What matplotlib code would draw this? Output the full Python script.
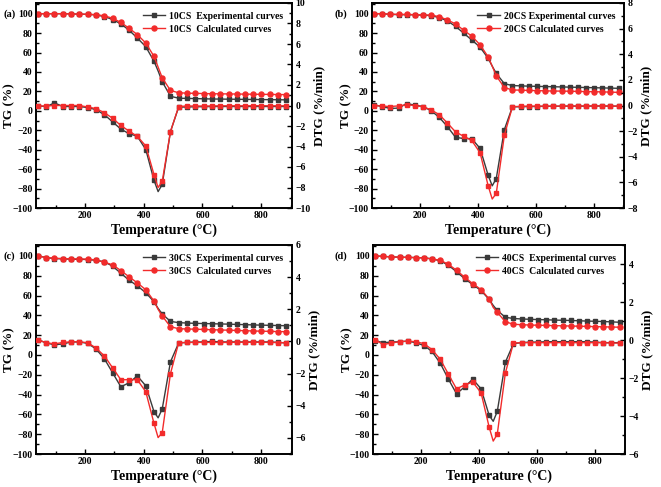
import matplotlib
matplotlib.use("Agg")
import matplotlib.pyplot as plt
from matplotlib.ticker import MultipleLocator

plt.rcParams['font.family'] = ['Liberation Serif', 'DejaVu Serif']
plt.rcParams['font.weight'] = 'bold'
plt.rcParams['axes.labelweight'] = 'bold'

# temperature (deg C); the point at 449 carries no marker
temps = [40, 68, 96, 125, 153, 181, 209, 237, 266, 294, 322, 350, 378, 407, 435, 449,
         463, 491, 519, 548, 576, 604, 632, 660, 689, 717, 745, 773, 801, 830, 858, 886]
marked = [i for i in range(len(temps)) if i != 15]

names = ['10CS', '20CS', '30CS', '40CS']
letters = ['(a)', '(b)', '(c)', '(d)']

# TG (%) experimental / calculated
tg_exp_a = [100, 100, 100, 100, 99.8, 99.5, 99.3, 98.8, 97, 94, 89.5, 83, 75, 66, 51, 41,
            30, 15, 13, 12.8, 12.6, 12.4, 12.2, 12.1, 12, 11.9, 11.8, 11.7, 11.6, 11.5, 11.4, 11.3]
tg_calc_a = [100, 100, 100, 100, 99.8, 99.6, 99.4, 99, 97.8, 95.3, 91, 85, 78.5, 69.8, 56, 45,
             34, 21, 18.6, 18.2, 18, 17.8, 17.6, 17.5, 17.4, 17.3, 17.2, 17.1, 17, 16.9, 16.8, 16.7]
tg_exp_b = [100, 100, 99.3, 99, 99, 98.8, 98.5, 98, 96, 92.5, 87, 80, 73, 65.5, 54, 46,
            38.5, 28, 26, 25.7, 25.4, 25.2, 25, 24.8, 24.6, 24.4, 24.2, 24, 23.8, 23.6, 23.4, 23.2]
tg_calc_b = [100, 100, 99.5, 99.3, 99.2, 99, 98.8, 98.5, 97, 93.5, 89.5, 83, 77, 68, 55.5, 46,
             36, 24, 21.5, 21.3, 21, 20.8, 20.6, 20.4, 20.3, 20.2, 20, 19.8, 19.7, 19.5, 19.3, 19]
tg_exp_c = [100, 98.3, 97.3, 97, 96.6, 96.6, 96.3, 95.6, 94, 89.6, 82.5, 75.5, 69.8, 62.8, 53.7, 47,
            41.3, 33.9, 32.6, 32.2, 31.9, 31.7, 31.5, 31.3, 31.1, 30.8, 30.6, 30.3, 30.1, 29.9, 29.7, 29.5]
tg_calc_c = [100, 98.3, 97.6, 97.3, 97, 97, 96.6, 96, 93.6, 91, 85.2, 78.9, 72.8, 65.8, 54.4, 46,
             39.3, 28.5, 26.5, 26.2, 26, 25.7, 25.5, 25.2, 25, 24.7, 24.5, 24.2, 24, 23.8, 23.6, 23.5]
tg_exp_d = [100, 99.5, 99, 98.7, 98.5, 98.3, 98, 97, 95, 90.5, 84, 77, 71, 65, 56, 50,
            45, 38, 36.8, 36.3, 36, 35.7, 35.5, 35.2, 35, 34.8, 34.5, 34.2, 34, 33.7, 33.4, 33]
tg_calc_d = [100, 99.5, 99, 98.7, 98.5, 98.3, 98, 97, 95.5, 91.5, 85.5, 78.5, 72, 66, 56.5, 48,
             43, 33.5, 31, 30.5, 30.2, 30, 29.8, 29.6, 29.4, 29.2, 29, 28.8, 28.6, 28.4, 28.2, 28]

# DTG (%/min) experimental / calculated
dtg_exp_a = [-0.05, -0.1, 0.25, -0.1, -0.1, -0.1, -0.2, -0.4, -0.9, -1.6, -2.3, -2.75, -3.0, -4.3, -7.3, -8.4,
             -7.7, -2.55, -0.15, -0.15, -0.12, -0.12, -0.1, -0.1, -0.1, -0.1, -0.1, -0.1, -0.1, -0.1, -0.1, -0.1]
dtg_calc_a = [-0.05, -0.05, 0, 0, 0, 0, -0.15, -0.3, -0.7, -1.25, -1.95, -2.5, -3.0, -3.95, -6.75, -8.0,
              -7.4, -2.55, -0.1, -0.05, -0.05, -0.05, -0.05, -0.03, -0.03, -0.03, -0.03, -0.02, -0.02, -0.03, -0.03, -0.03]
dtg_exp_b = [0.05, -0.08, -0.23, -0.2, 0.15, 0.03, -0.08, -0.4, -0.93, -1.65, -2.48, -2.58, -2.58, -3.35, -5.45, -6.27,
             -5.7, -1.88, -0.1, -0.1, -0.08, -0.08, -0.06, -0.06, -0.05, -0.05, -0.05, -0.05, -0.04, -0.04, -0.05, -0.05]
dtg_calc_b = [0, -0.05, -0.08, -0.03, 0.05, 0, -0.1, -0.33, -0.72, -1.37, -2.06, -2.4, -2.73, -3.69, -6.27, -7.3,
              -6.86, -2.32, -0.1, -0.06, -0.05, -0.05, -0.05, -0.05, -0.05, -0.05, -0.04, -0.04, -0.03, -0.04, -0.05, -0.05]
dtg_exp_c = [0.1, -0.09, -0.21, -0.15, -0.03, -0.03, -0.12, -0.46, -1.08, -1.95, -2.82, -2.57, -2.14, -2.76, -4.37, -4.75,
             -4.19, -1.27, -0.09, -0.06, -0.03, -0.03, 0.0, -0.03, -0.03, -0.03, -0.03, -0.03, -0.03, -0.03, -0.06, -0.09]
dtg_calc_c = [0.1, -0.08, -0.15, -0.06, -0.02, -0.02, -0.08, -0.4, -0.9, -1.64, -2.38, -2.38, -2.38, -3.13, -5.1, -5.98,
              -5.67, -2.0, -0.08, -0.06, -0.06, -0.06, -0.06, -0.06, -0.06, -0.05, -0.05, -0.05, -0.05, -0.06, -0.07, -0.08]
dtg_exp_d = [-0.03, -0.14, -0.11, -0.09, -0.06, -0.14, -0.29, -0.6, -1.23, -2.06, -2.83, -2.47, -2.06, -2.57, -3.97, -4.28,
             -3.76, -1.17, -0.19, -0.14, -0.11, -0.11, -0.09, -0.09, -0.09, -0.09, -0.09, -0.09, -0.11, -0.14, -0.14, -0.14]
dtg_calc_d = [0.02, -0.24, -0.16, -0.09, -0.06, -0.09, -0.19, -0.5, -1.02, -1.8, -2.57, -2.37, -2.21, -2.78, -4.59, -5.32,
              -4.96, -1.74, -0.16, -0.14, -0.14, -0.14, -0.14, -0.14, -0.14, -0.14, -0.14, -0.14, -0.14, -0.14, -0.16, -0.16]

dtg_lims = [(-10, 10), (-8, 8), (-7, 6), (-6, 5)]
legend_sep = ['  ', ' ', '  ', '  ']

tg_exp = [tg_exp_a, tg_exp_b, tg_exp_c, tg_exp_d]
tg_calc = [tg_calc_a, tg_calc_b, tg_calc_c, tg_calc_d]
dtg_exp = [dtg_exp_a, dtg_exp_b, dtg_exp_c, dtg_exp_d]
dtg_calc = [dtg_calc_a, dtg_calc_b, dtg_calc_c, dtg_calc_d]

GRAY = '#3a3a3a'
RED = '#f22b2b'

fig = plt.figure(figsize=(6.61, 4.87), dpi=100)
W, H = 661.0, 487.0
# axes boxes in pixels: left, top, right, bottom
boxes = [(36, 3, 292, 208), (372, 3, 624, 208), (36, 245, 292, 454), (373, 245, 625, 454)]
# panel letter positions (pixels)
letter_xy = [(3, 14), (335, 14), (3, 256), (335, 256)]

for k in range(4):
    l, t, r, b = boxes[k]
    ax = fig.add_axes([l / W, 1 - b / H, (r - l) / W, (b - t) / H])
    ax2 = ax.twinx()

    ax.plot(temps, tg_exp[k], color=GRAY, lw=1.0, marker='s', ms=3.2, markevery=marked,
            label=names[k] + legend_sep[k] + 'Experimental curves', zorder=2)
    ax.plot(temps, tg_calc[k], color=RED, lw=1.0, marker='o', ms=3.6, markevery=marked,
            label=names[k] + legend_sep[k] + 'Calculated curves', zorder=3)
    ax2.plot(temps, dtg_exp[k], color=GRAY, lw=1.0, marker='s', ms=3.2, markevery=marked, zorder=2)
    ax2.plot(temps, dtg_calc[k], color=RED, lw=1.0, marker='s', ms=3.4, markevery=marked, zorder=3)

    ax.set_xlim(33, 905)
    ax.set_ylim(-100, 111)
    ax2.set_ylim(*dtg_lims[k])

    ax.xaxis.set_major_locator(MultipleLocator(200))
    ax.xaxis.set_minor_locator(MultipleLocator(100))
    ax.yaxis.set_major_locator(MultipleLocator(20))
    ax.yaxis.set_minor_locator(MultipleLocator(10))
    ax2.yaxis.set_major_locator(MultipleLocator(2))
    ax2.yaxis.set_minor_locator(MultipleLocator(1))

    ax.set_xticks([200, 400, 600, 800])
    ax.set_yticks(range(-100, 101, 20))

    for a in (ax, ax2):
        a.tick_params(which='both', direction='in', labelsize=7, width=1.0, pad=2.5)
        a.tick_params(which='major', length=3.5)
        a.tick_params(which='minor', length=2)
        for s in a.spines.values():
            s.set_linewidth(1.2)
    ax.tick_params(top=False, right=False)
    for lab in ax.get_xticklabels() + ax.get_yticklabels() + ax2.get_yticklabels():
        lab.set_fontweight('bold')

    ax.set_xlabel('Temperature (\u00b0C)', fontsize=10, fontweight='bold', labelpad=2)
    ax.set_ylabel('TG (%)', fontsize=9.5, fontweight='bold')
    ax.yaxis.set_label_coords(-0.08, 0.5)
    ax2.set_ylabel('DTG (%/min)', fontsize=9.5, fontweight='bold', labelpad=2)

    ax.legend(loc='upper right', frameon=False, handlelength=2.3,
              handletextpad=0.4, labelspacing=0.4, borderaxespad=0.5,
              prop={'weight': 'bold', 'size': 7})

    fig.text(letter_xy[k][0] / W, 1 - letter_xy[k][1] / H, letters[k], fontsize=7.5,
             fontweight='bold', va='center')

fig.savefig('out.png', dpi=100)
